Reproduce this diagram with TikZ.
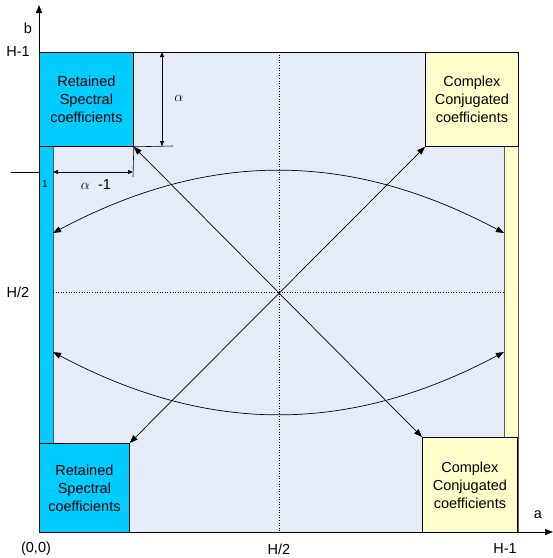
\documentclass[tikz,border=0pt]{standalone}
\usepackage{fontspec}
\setmainfont{Liberation Sans}
\usepackage{tikz}
\usetikzlibrary{arrows.meta, positioning, calc}
\definecolor{planebg}{HTML}{E6ECF7}
\definecolor{retcyan}{HTML}{00CCFF}
\definecolor{conjyellow}{HTML}{FFFFCC}
\definecolor{edgegray}{HTML}{595959}

\begin{document}
\begin{tikzpicture}[x=1pt, y=-1pt,
        coef/.style={rectangle, draw, line width=0.8pt, anchor=north west, align=center, inner sep=0pt, font=\fontsize{14.5}{18}\selectfont},
        retbox/.style={coef, fill=retcyan},
        conjbox/.style={coef, fill=conjyellow},
        strip/.style={draw=edgegray, line width=0.8pt},
        lab/.style={font=\fontsize{14.5}{16}\selectfont},
        axis/.style={-{Triangle[length=8pt, width=6pt]}, line width=0.8pt},
        flow/.style={{Triangle[length=8pt, width=6pt]}-{Triangle[length=8pt, width=6pt]}, line width=0.7pt},
        dim/.style={{Triangle[length=5pt, width=4pt]}-{Triangle[length=5pt, width=4pt]}, line width=0.6pt}]
        \useasboundingbox (0,0) rectangle (553,558);

        % coefficient plane
        \fill[planebg] (39,52) rectangle (518,532);
        \draw[edgegray, line width=0.8pt] (518,52) -- (518,532);
        \draw[line width=0.8pt] (39,52) -- (518,52);
        \filldraw[strip, fill=retcyan] (39,146) rectangle (53,443);
        \filldraw[strip, fill=conjyellow] (504,146) rectangle (518,437);
        \draw[dotted, line width=0.6pt] (279,52) -- (279,532);
        \draw[dotted, line width=0.6pt] (53,292) -- (504,292);

        \node[retbox, minimum width=94pt, minimum height=94pt] (rtl) at (39,52) {Retained\\Spectral\\coefficients};
        \node[conjbox, minimum width=93pt, minimum height=94pt] (cctr) at (425,52) {Complex\\Conjugated\\coefficients};
        \node[retbox, minimum width=90pt, minimum height=89pt] (rbl) at (39,443) {Retained\\Spectral\\coefficients};
        \node[conjbox, minimum width=95pt, minimum height=95pt] (ccbr) at (422,437) {Complex\\Conjugated\\coefficients};

        % axes
        \coordinate (origin) at (39,532);
        \coordinate (bend) at (39,5);
        \coordinate (aend) at (553,532);
        \draw[axis] (origin) -- (bend);
        \draw[axis] (origin) -- (aend);
        \node[lab] (blab) at (28,28) {b};
        \node[lab] (alab) at (538,515) {a};
        \node[lab] (ytop) at (18,52) {H-1};
        \node[lab] (ymid) at (18,292) {H/2};
        \node[lab] (orig) at (36,549) {(0,0)};
        \node[lab] (xmid) at (279,549) {H/2};
        \node[lab] (xtop) at (505,549) {H-1};

        % symmetry arrows
        \draw[flow] (rtl.south east) -- (ccbr.north west);
        \draw[flow] (cctr.south west) -- (rbl.north east);
        \coordinate (lup) at (53,233);
        \coordinate (rup) at (504,233);
        \coordinate (llo) at (53,352);
        \coordinate (rlo) at (504,352);
        \draw[flow] (lup) to[bend left=28] (rup);
        \draw[flow] (llo) to[bend right=28] (rlo);

        % dimensions
        \coordinate (aext) at (173,146);
        \coordinate (atop) at (162,52);
        \coordinate (abot) at (162,146);
        \draw[line width=0.6pt] (rtl.south east) -- (aext);
        \draw[dim] (atop) -- (abot);
        \node[lab] (alpha) at (179,98) {$\alpha$};
        \coordinate (tick) at (11,172);
        \coordinate (tickend) at (39,172);
        \draw[line width=0.6pt] (tick) -- (tickend);
        \coordinate (wext) at (133,177);
        \draw[line width=0.6pt] (rtl.south east) -- (wext);
        \coordinate (wl) at (53,172);
        \coordinate (wr) at (133,172);
        \draw[dim] (wl) -- (wr);
        \node[lab] (alpham) at (96,185) {$\alpha$\ \ -1};
        \node[font=\fontsize{10}{11}\selectfont] (one) at (45,184) {1};
\end{tikzpicture}
\end{document}
